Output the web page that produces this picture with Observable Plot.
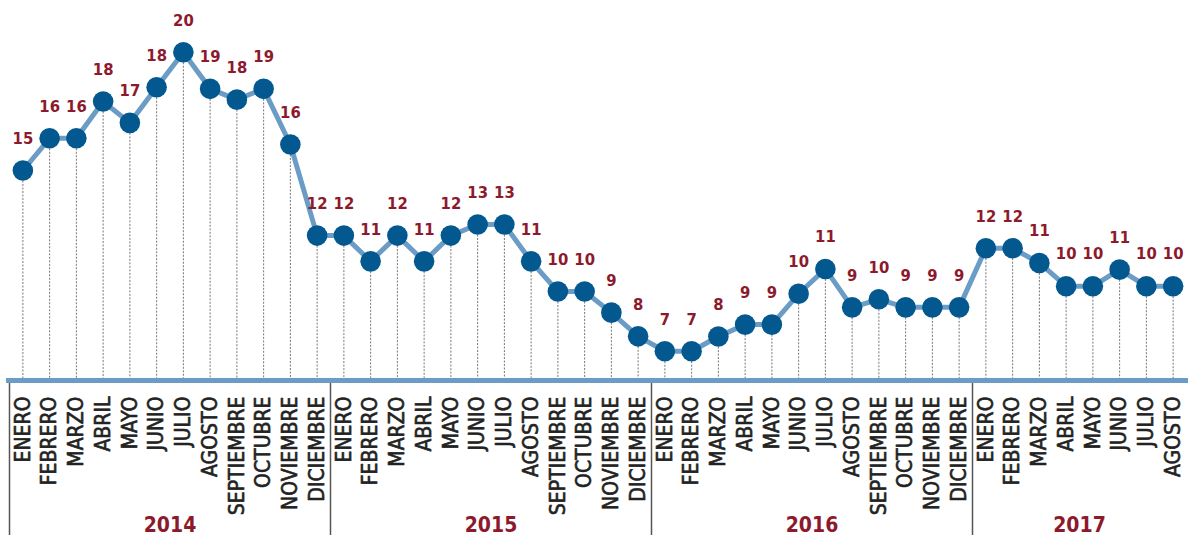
<!DOCTYPE html>
<html>
<head>
<meta charset="utf-8">
<script src="https://cdn.jsdelivr.net/npm/d3@7"></script>
<script src="https://cdn.jsdelivr.net/npm/@observablehq/plot@0.6"></script>
<style>
  html, body { margin: 0; padding: 0; background: #fff; }
  #chart svg { display: block; }
</style>
</head>
<body>
<div id="chart"></div>
<script>
const meses = ["ENERO","FEBRERO","MARZO","ABRIL","MAYO","JUNIO","JULIO","AGOSTO","SEPTIEMBRE","OCTUBRE","NOVIEMBRE","DICIEMBRE"];
const anios = [2014, 2015, 2016, 2017];
const valores = [
  14.86, 16.26, 16.26, 17.86, 16.93, 18.48, 20.00, 18.41, 17.94, 18.41, 15.99, 12.03,
  12.03, 10.91, 12.03, 10.91, 12.03, 12.51, 12.51, 10.91, 9.60, 9.60, 8.68, 7.65,
  7.00, 7.00, 7.64, 8.16, 8.16, 9.50, 10.58, 8.91, 9.26, 8.91, 8.91, 8.91,
  11.48, 11.48, 10.84, 9.83, 9.83, 10.55, 9.83, 9.83
];
// etiquetas impresas sobre cada punto
const etiquetas = [
  15, 16, 16, 18, 17, 18, 20, 19, 18, 19, 16, 12,
  12, 11, 12, 11, 12, 13, 13, 11, 10, 10, 9, 8,
  7, 7, 8, 9, 9, 10, 11, 9, 10, 9, 9, 9,
  12, 12, 11, 10, 10, 11, 10, 10
];

const datos = valores.map((v, i) => ({
  i, v, label: String(etiquetas[i]), mes: meses[i % 12], anio: anios[Math.floor(i / 12)]
}));
const grupos = anios.map((a, k) => {
  const idx = datos.filter(d => d.anio === a).map(d => d.i);
  return { anio: String(a), inicio: idx[0] - 0.5, centro: d3.mean(idx) };
});

const yDom = [5.73, 22.25];
const font = "'DejaVu Sans Condensed', 'DejaVu Sans', sans-serif";
const azulLinea = "#6b9cc6";
const azulPunto = "#03598f";
const rojo = "#8c1a2c";

const chart = Plot.plot({
  width: 1188,
  height: 544,
  marginTop: 0,
  marginBottom: 164,
  marginLeft: 9,
  marginRight: 2,
  style: { fontFamily: font, fontStretch: "condensed", color: "#222", background: "#fff" },
  x: { domain: [-0.5, 43.5], axis: null },
  y: { domain: yDom, axis: null },
  marks: [
    Plot.ruleX(datos, { x: "i", y1: "v", y2: () => yDom[0], stroke: "#777", strokeWidth: 1, strokeDasharray: "2,1.5" }),
    Plot.ruleX(grupos, { x: "inicio", stroke: "#555", strokeWidth: 1.5, insetTop: 380, insetBottom: -155 }),
    Plot.frame({ anchor: "bottom", stroke: azulLinea, strokeWidth: 5, insetRight: -2, insetLeft: -1 }),
    Plot.line(datos, { x: "i", y: "v", stroke: azulLinea, strokeWidth: 5, strokeLinejoin: "round" }),
    Plot.dot(datos, { x: "i", y: "v", r: 10.3, fill: azulPunto, stroke: "none" }),
    Plot.text(datos, { x: "i", y: "v", text: "label", dy: -32, fill: rojo, fontSize: 16.5, fontWeight: "bold" }),
    Plot.axisX({
      ticks: d3.range(datos.length),
      tickFormat: i => meses[i % 12],
      tickRotate: -90,
      tickSize: 0,
      tickPadding: 16,
      fontSize: 21,
      fill: "#222",
      textStroke: "#222",
      textStrokeWidth: 0.6
    }),
    Plot.text(grupos, { x: "centro", text: "anio", frameAnchor: "bottom", dy: 151, fill: rojo, fontSize: 21, fontWeight: "bold" })
  ]
});
document.getElementById("chart").append(chart);
</script>
</body>
</html>
